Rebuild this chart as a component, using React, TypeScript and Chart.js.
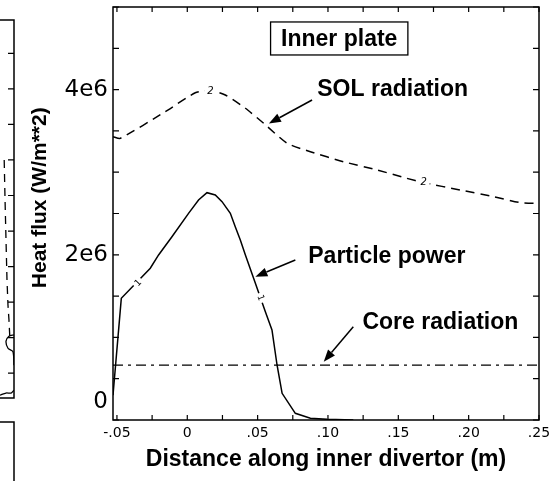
import React, { useEffect, useRef } from 'react';
import { Chart, registerables } from 'chart.js';

Chart.register(...registerables);

// Particle power along the inner plate (x in m, y in W/m**2)
const particleX = [
  -0.0528, -0.0469, -0.0263, -0.0204, -0.0109, 0.0009, 0.008, 0.014, 0.0199, 0.0247,
  0.0306, 0.0341, 0.0377, 0.0413, 0.0484, 0.0555, 0.0602, 0.0638, 0.0674, 0.0768,
  0.0875, 0.0994, 0.118,
];
const particlePower = [
  0.30e6, 1.473e6, 1.837e6, 1.998e6, 2.219e6, 2.502e6, 2.663e6, 2.752e6, 2.724e6, 2.643e6,
  2.502e6, 2.34e6, 2.179e6, 1.998e6, 1.655e6, 1.311e6, 1.09e6, 0.666e6, 0.323e6, 0.081e6,
  0.021e6, 0.008e6, 0.0,
];

// SOL radiation along the inner plate
const solX = [
  -0.0528, -0.0476, -0.0157, 0.0057, 0.0164, 0.027, 0.0413, 0.0543, 0.071, 0.0875,
  0.111, 0.135, 0.156, 0.168, 0.194, 0.218, 0.237, 0.25,
];
const solRadiation = [
  3.43e6, 3.41e6, 3.732e6, 3.962e6, 3.99e6, 3.935e6, 3.774e6, 3.592e6, 3.35e6, 3.248e6,
  3.127e6, 3.027e6, 2.926e6, 2.873e6, 2.785e6, 2.703e6, 2.631e6, 2.623e6,
];

// Core radiation is flat across the plate
const coreX = [-0.0528, 0.25];
const coreRadiation = [0.665e6, 0.665e6];

// Axis ranges and ticks
const xRange = [-0.0528, 0.25];
const yRange = [0, 5e6];
const xTickLabels = [-0.05, 0, 0.05, 0.1, 0.15, 0.2, 0.25];
const yTickLabels = [0, 2e6, 4e6];
const xTickMarks = [-0.05, -0.025, 0, 0.025, 0.05, 0.075, 0.1, 0.125, 0.15, 0.175, 0.2, 0.225, 0.25];
const yTickMarks = [0, 0.5e6, 1e6, 1.5e6, 2e6, 2.5e6, 3e6, 3.5e6, 4e6, 4.5e6, 5e6];

// Contour-style curve labels placed on the lines
const solCurveTags = [
  { text: '2', x: 0.0164, y: 3.98e6 },
  { text: '2', x: 0.168, y: 2.873e6 },
];
const particleCurveTags = [
  { text: '1', x: -0.0349, y: 1.659e6 },
  { text: '1', x: 0.052, y: 1.477e6 },
];

// Callouts with arrows
const callouts = [
  { text: 'SOL radiation', at: [0.0924, 3.995e6], tail: [0.0887, 3.874e6], tip: [0.058, 3.59e6] },
  { text: 'Particle power', at: [0.086, 1.973e6], tail: [0.0768, 1.937e6], tip: [0.0484, 1.735e6] },
  { text: 'Core radiation', at: [0.1245, 1.174e6], tail: [0.118, 1.13e6], tip: [0.097, 0.706e6] },
];
const panelTitle = { text: 'Inner plate', at: [0.108, 4.619e6] };

// Neighbouring panel (only its right edge shows)
const sideDashX = [0.3, 0.36, 0.43, 0.5, 0.57, 0.64, 0.7];
const sideDashY = [3.5, 2.94, 2.37, 1.81, 1.46, 1.25, 1.01];
const sideSolidX = [1.0, 0.64, 0.43, 0.57, 0.93, 1.0];
const sideSolidY = [1.04, 1.02, 0.95, 0.85, 0.8, 0.61];
const sideLowX = [0.0, 0.43, 0.79, 1.0];
const sideLowY = [0.19, 0.22, 0.22, 0.26];
const sideTickMarks = [0.5, 1, 1.5, 2, 2.5, 3, 3.5, 4, 4.5, 5];

const BOLD = 'bold 23px "Liberation Sans", Arial, sans-serif';

const fmtX = (v: number) => {
  if (v === 0) return '0';
  const s = Math.abs(v).toFixed(2).replace(/^0/, '');
  return (v < 0 ? '-' : '') + s;
};

const framePlugin = {
  id: 'frame',
  afterDraw(chart: any) {
    const { ctx, chartArea: a, scales } = chart;
    ctx.save();
    ctx.strokeStyle = '#000';
    ctx.lineWidth = 1.5;
    ctx.strokeRect(a.left, a.top, a.right - a.left, a.bottom - a.top);
    ctx.lineWidth = 1.2;
    ctx.beginPath();
    for (const v of xTickMarks) {
      const px = scales.x.getPixelForValue(v);
      ctx.moveTo(px, a.bottom);
      ctx.lineTo(px, a.bottom - 5);
      ctx.moveTo(px, a.top);
      ctx.lineTo(px, a.top + 5);
    }
    for (const v of yTickMarks) {
      const py = scales.y.getPixelForValue(v);
      ctx.moveTo(a.left, py);
      ctx.lineTo(a.left + 6, py);
      ctx.moveTo(a.right, py);
      ctx.lineTo(a.right - 6, py);
    }
    ctx.stroke();
    ctx.restore();
  },
};

function segmentAngle(chart: any, dsIndex: number, px: number) {
  const pts = chart.getDatasetMeta(dsIndex).data;
  for (let i = 0; i < pts.length - 1; i++) {
    if (pts[i].x <= px && pts[i + 1].x >= px) {
      return Math.atan2(pts[i + 1].y - pts[i].y, pts[i + 1].x - pts[i].x);
    }
  }
  return 0;
}

const annotationPlugin = {
  id: 'annotations',
  afterDatasetsDraw(chart: any) {
    const { ctx, scales } = chart;
    const X = (v: number) => scales.x.getPixelForValue(v);
    const Y = (v: number) => scales.y.getPixelForValue(v);
    ctx.save();

    // labels on the SOL curve
    ctx.font = 'italic 10px "DejaVu Sans", sans-serif';
    ctx.textAlign = 'center';
    ctx.textBaseline = 'middle';
    for (const t of solCurveTags) {
      const px = X(t.x), py = Y(t.y);
      ctx.fillStyle = '#fff';
      ctx.fillRect(px - 6, py - 6, 12, 12);
      ctx.fillStyle = '#000';
      ctx.fillText(t.text, px, py);
    }

    // labels on the particle power curve, rotated along the line
    for (const t of particleCurveTags) {
      const px = X(t.x), py = Y(t.y);
      const ang = segmentAngle(chart, 0, px);
      ctx.save();
      ctx.translate(px, py);
      ctx.rotate(ang);
      ctx.fillStyle = '#fff';
      ctx.fillRect(-5, -4, 10, 8);
      ctx.fillStyle = '#000';
      ctx.font = '9px "DejaVu Sans", sans-serif';
      ctx.fillText(t.text, 0, 0);
      ctx.restore();
    }

    // callouts
    ctx.font = BOLD;
    ctx.textAlign = 'left';
    ctx.textBaseline = 'middle';
    ctx.fillStyle = '#000';
    ctx.strokeStyle = '#000';
    for (const c of callouts) {
      ctx.fillText(c.text, X(c.at[0]), Y(c.at[1]));
      const x1 = X(c.tail[0]), y1 = Y(c.tail[1]);
      const x2 = X(c.tip[0]), y2 = Y(c.tip[1]);
      const ang = Math.atan2(y2 - y1, x2 - x1);
      const len = 12, half = 4.5;
      const bx = x2 - len * Math.cos(ang), by = y2 - len * Math.sin(ang);
      ctx.lineWidth = 1.5;
      ctx.beginPath();
      ctx.moveTo(x1, y1);
      ctx.lineTo(bx, by);
      ctx.stroke();
      ctx.beginPath();
      ctx.moveTo(x2, y2);
      ctx.lineTo(bx + half * Math.sin(ang), by - half * Math.cos(ang));
      ctx.lineTo(bx - half * Math.sin(ang), by + half * Math.cos(ang));
      ctx.closePath();
      ctx.fill();
    }

    // boxed panel title
    const cx = X(panelTitle.at[0]), cy = Y(panelTitle.at[1]);
    const w = ctx.measureText(panelTitle.text).width + 21;
    const h = 33;
    ctx.fillStyle = '#fff';
    ctx.fillRect(cx - w / 2, cy - h / 2, w, h);
    ctx.lineWidth = 1.3;
    ctx.strokeRect(cx - w / 2, cy - h / 2, w, h);
    ctx.fillStyle = '#000';
    ctx.textAlign = 'center';
    ctx.fillText(panelTitle.text, cx, cy + 1);
    ctx.restore();
  },
};

const sideFramePlugin = {
  id: 'sideFrame',
  afterDraw(chart: any) {
    const { ctx, chartArea: a, scales } = chart;
    ctx.save();
    ctx.strokeStyle = '#000';
    ctx.lineWidth = 1.5;
    ctx.beginPath();
    ctx.moveTo(a.left, a.top);
    ctx.lineTo(a.right, a.top);
    ctx.lineTo(a.right, a.bottom);
    ctx.lineTo(a.left, a.bottom);
    // top edge of the panel below
    ctx.moveTo(a.left, a.bottom + 24);
    ctx.lineTo(a.right, a.bottom + 24);
    ctx.lineTo(a.right, chart.height);
    ctx.stroke();
    ctx.lineWidth = 1.2;
    ctx.beginPath();
    for (const v of sideTickMarks) {
      const py = scales.y.getPixelForValue(v);
      ctx.moveTo(a.right, py);
      ctx.lineTo(a.right - 6, py);
    }
    ctx.stroke();
    ctx.restore();
  },
};

const toPoints = (xs: number[], ys: number[]) => xs.map((x, i) => ({ x, y: ys[i] }));

export default function App() {
  const mainRef = useRef<HTMLCanvasElement>(null);
  const sideRef = useRef<HTMLCanvasElement>(null);

  useEffect(() => {
    const main = new Chart(mainRef.current as HTMLCanvasElement, {
      type: 'line',
      data: {
        datasets: [
          {
            label: 'Particle power',
            data: toPoints(particleX, particlePower),
            borderColor: '#000',
            borderWidth: 1.5,
            pointRadius: 0,
            tension: 0,
            fill: false,
          },
          {
            label: 'SOL radiation',
            data: toPoints(solX, solRadiation),
            borderColor: '#000',
            borderWidth: 1.5,
            borderDash: [9, 6],
            pointRadius: 0,
            tension: 0.2,
            fill: false,
          },
          {
            label: 'Core radiation',
            data: toPoints(coreX, coreRadiation),
            borderColor: '#000',
            borderWidth: 1.3,
            borderDash: [10, 5, 3, 5],
            pointRadius: 0,
            fill: false,
          },
        ],
      },
      options: {
        animation: false,
        responsive: true,
        maintainAspectRatio: false,
        layout: { padding: { top: 7, right: 17, left: 0, bottom: 0 } },
        plugins: { legend: { display: false }, tooltip: { enabled: false } },
        scales: {
          x: {
            type: 'linear',
            min: xRange[0],
            max: xRange[1],
            grid: { display: false, drawTicks: false },
            border: { display: false },
            afterBuildTicks: (s: any) => {
              s.ticks = xTickLabels.map((v) => ({ value: v }));
            },
            afterFit: (s: any) => {
              s.height = 61;
              s.paddingLeft = 0;
              s.paddingRight = 0;
            },
            ticks: {
              autoSkip: false,
              maxRotation: 0,
              padding: 5,
              color: '#000',
              font: { family: '"DejaVu Sans", sans-serif', size: 14 },
              callback: (v: any) => fmtX(Number(v)),
            },
            title: {
              display: true,
              text: 'Distance along inner divertor (m)',
              color: '#000',
              font: { family: '"Liberation Sans", Arial, sans-serif', size: 23, weight: 'bold' },
              padding: { top: 0, bottom: 8 },
            },
          },
          y: {
            type: 'linear',
            min: yRange[0],
            max: yRange[1],
            grid: { display: false, drawTicks: false },
            border: { display: false },
            afterBuildTicks: (s: any) => {
              s.ticks = yTickLabels.map((v) => ({ value: v }));
            },
            afterFit: (s: any) => {
              s.width = 113;
              s.paddingTop = 0;
              s.paddingBottom = 0;
            },
            ticks: {
              autoSkip: false,
              padding: 5,
              color: '#000',
              font: { family: '"DejaVu Sans", sans-serif', size: 23, lineHeight: 1.6 },
              callback: (v: any) => (Number(v) === 0 ? ['0', ''] : Number(v) / 1e6 + 'e6'),
            },
            title: {
              display: true,
              text: '\u2002\u2002\u2002Heat flux (W/m**2)',
              color: '#000',
              font: { family: '"Liberation Sans", Arial, sans-serif', size: 21, weight: 'bold' },
              padding: { top: 28, bottom: 0 },
            },
          },
        },
      },
      plugins: [framePlugin, annotationPlugin],
    } as any);

    const side = new Chart(sideRef.current as HTMLCanvasElement, {
      type: 'line',
      data: {
        datasets: [
          {
            data: toPoints(sideDashX, sideDashY),
            borderColor: '#000',
            borderWidth: 1.3,
            borderDash: [8, 6],
            pointRadius: 0,
            fill: false,
          },
          {
            data: toPoints(sideSolidX, sideSolidY),
            borderColor: '#000',
            borderWidth: 1.3,
            pointRadius: 0,
            tension: 0.3,
            fill: false,
          },
          {
            data: toPoints(sideLowX, sideLowY),
            borderColor: '#000',
            borderWidth: 1.3,
            pointRadius: 0,
            tension: 0.3,
            fill: false,
          },
        ],
      },
      options: {
        animation: false,
        responsive: true,
        maintainAspectRatio: false,
        layout: { padding: { top: 20, right: 2, left: 0, bottom: 83 } },
        plugins: { legend: { display: false }, tooltip: { enabled: false } },
        scales: {
          x: { type: 'linear', min: 0, max: 1, display: false },
          y: { type: 'linear', min: 0.15, max: 5.47, display: false },
        },
      },
      plugins: [sideFramePlugin],
    } as any);

    return () => {
      main.destroy();
      side.destroy();
    };
  }, []);

  return (
    <div style={{ position: 'fixed', left: 0, top: 0, width: 556, height: 481, background: '#fff' }}>
      <div style={{ position: 'absolute', left: 0, top: 0, width: 556, height: 481 }}>
        <canvas ref={mainRef} />
      </div>
      <div style={{ position: 'absolute', left: 0, top: 0, width: 16, height: 481 }}>
        <canvas ref={sideRef} />
      </div>
    </div>
  );
}
